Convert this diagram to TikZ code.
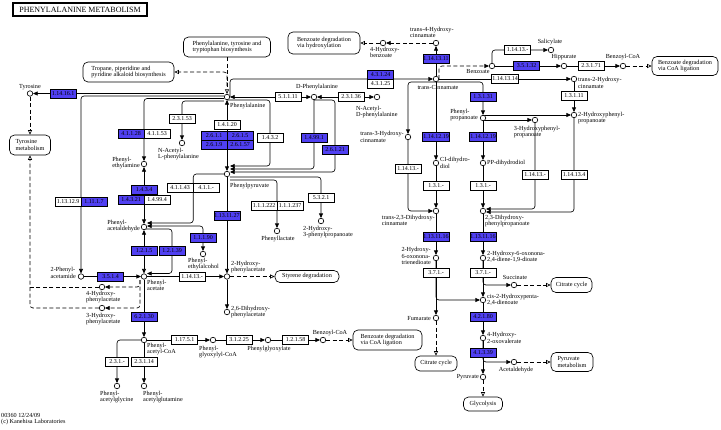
\documentclass[tikz,border=0pt]{standalone}
\usepackage{fontspec}
\setmainfont{Liberation Serif}
\usetikzlibrary{arrows.meta,calc}
\definecolor{keggblue}{RGB}{80,64,242}
\newcommand{\kLbl}{\fontsize{6.2}{6.4}\selectfont}
\newcommand{\kEnz}{\fontsize{6}{6}\selectfont}
\pgfdeclarelayer{bg}
\pgfsetlayers{bg,main}
\begin{document}
\begin{tikzpicture}[x=1pt,y=-1pt,
  >={Triangle[length=4.5pt,width=4pt]},
  ln/.style={line width=0.65pt, rounded corners=3pt},
  dsh/.style={line width=0.65pt, dash pattern=on 4pt off 2.5pt, rounded corners=3pt},
  oar/.style={-{Triangle[open,length=4.5pt,width=4pt]}},
  cpd/.style={circle,draw,fill=white,inner sep=0pt,minimum size=5.5pt,line width=0.65pt},
  enz/.style={draw,fill=white,minimum width=26pt,minimum height=9pt,inner xsep=0.5pt,inner ysep=0pt,font=\kEnz,line width=0.6pt},
  enzb/.style={enz,fill=keggblue},
  mapb/.style={draw,rounded corners=5pt,align=left,inner sep=1pt,font=\kLbl,line width=0.65pt},
  lbl/.style={font=\kLbl,align=left,inner sep=0pt},
  lblc/.style={font=\kLbl,align=center,inner sep=0pt}
]
\useasboundingbox (0,0) rectangle (721,429);

% title
\node[draw,line width=1.1pt,minimum width=134pt,minimum height=13pt,inner sep=0pt,font=\fontsize{8}{8}\selectfont] (title) at (80,9.5) {PHENYLALANINE METABOLISM};

% compounds
\node[cpd] (tyr) at (30,93.5) {};
\node[cpd] (phe) at (227,97) {};
\node[cpd] (dphe) at (314,97) {};
\node[cpd] (nacdphe) at (377,97) {};
\node[cpd] (nacl) at (182,143) {};
\node[cpd] (pea) at (144,164) {};
\node[cpd] (ppy) at (227,174) {};
\node[cpd] (pacal) at (144,227) {};
\node[cpd] (peol) at (203,254) {};
\node[cpd] (plac) at (277,231) {};
\node[cpd] (hpp) at (321,221) {};
\node[cpd] (pam) at (81,276.5) {};
\node[cpd] (pac) at (144,276.5) {};
\node[cpd] (ohpac) at (227,276.5) {};
\node[cpd] (dhpac) at (227,312) {};
\node[cpd] (hpacA) at (102,287) {};
\node[cpd] (hpacB) at (102,308) {};
\node[cpd] (paccoa) at (144,340) {};
\node[cpd] (pglycoa) at (213,340) {};
\node[cpd] (pgly) at (268,340) {};
\node[cpd] (bzcoaA) at (323,340) {};
\node[cpd] (pagly) at (117,386) {};
\node[cpd] (pagln) at (144,386) {};
\node[cpd] (hbz) at (383,43) {};
\node[cpd] (hcinA) at (436,43) {};
\node[cpd] (cin) at (436,79) {};
\node[cpd] (bz) at (492,66) {};
\node[cpd] (sal) at (551,50) {};
\node[cpd] (hip) at (564,66) {};
\node[cpd] (bzcoaB) at (623,66) {};
\node[cpd] (hcinB) at (574,79) {};
\node[cpd] (hcinC) at (408,137) {};
\node[cpd] (ppa) at (483,118) {};
\node[cpd] (hppaC) at (535,120) {};
\node[cpd] (hppaB) at (574,115) {};
\node[cpd] (cidiol) at (436,163) {};
\node[cpd] (ppdiol) at (483,163) {};
\node[cpd] (dhcin) at (436,211) {};
\node[cpd] (dhppa) at (483,211) {};
\node[cpd] (hont) at (436,258) {};
\node[cpd] (hond) at (483,258) {};
\node[cpd] (fum) at (436,318) {};
\node[cpd] (succ) at (514,285) {};
\node[cpd] (chp) at (483,300) {};
\node[cpd] (hov) at (483,338) {};
\node[cpd] (acald) at (514,362) {};
\node[cpd] (pyr) at (483,377) {};

% enzymes
\node[enzb] (e141) at (63,93.5) {1.14.16.1};
\node[enzb] (e4128) at (131,134) {4.1.1.28};
\node[enz] (e4153) at (157,134) {4.1.1.53};
\node[enz] (e23153) at (182,119) {2.3.1.53};
\node[enz] (e14120) at (227,124.5) {1.4.1.20};
\node[enzb] (e2611) at (214,135.5) {2.6.1.1};
\node[enzb] (e2615) at (240,135.5) {2.6.1.5};
\node[enzb] (e2619) at (214,144.5) {2.6.1.9};
\node[enzb] (e26157) at (240,144.5) {2.6.1.57};
\node[enz] (e1432) at (270,138) {1.4.3.2};
\node[enz] (e51111) at (288,97) {5.1.1.11};
\node[enz] (e23136) at (351,97) {2.3.1.36};
\node[enzb] (e14991) at (314,137.5) {1.4.99.1};
\node[enzb] (e26121) at (335,149.5) {2.6.1.21};
\node[enzb] (e43124) at (380.5,74.5) {4.3.1.24};
\node[enz] (e43125) at (380.5,83.5) {4.3.1.25};
\node[enzb] (e14131) at (436,59) {1.14.13.11};
\node[enzb] (e35132) at (526.5,66) {3.5.1.32};
\node[enz] (e1413a) at (517.5,50) {1.14.13.-};
\node[enz] (e23171) at (591,66) {2.3.1.71};
\node[enz] (e141314) at (505,79) {1.14.13.14};
\node[enz] (e13111) at (574,96) {1.3.1.11};
\node[enzb] (e13131) at (483,97) {1.3.1.31};
\node[enzb] (e141219a) at (436,137) {1.14.12.19};
\node[enzb] (e141219b) at (483,137) {1.14.12.19};
\node[enz] (e1413b) at (408,168.5) {1.14.13.-};
\node[enz] (e131a) at (436,186) {1.3.1.-};
\node[enz] (e131b) at (483,186) {1.3.1.-};
\node[enz] (e1413c) at (535,174.5) {1.14.13.-};
\node[enz] (e14134) at (574,174.5) {1.14.13.4};
\node[enzb] (e131116a) at (436,237) {1.13.11.16};
\node[enzb] (e131116b) at (483,237) {1.13.11.16};
\node[enz] (e371a) at (436,272.5) {3.7.1.-};
\node[enz] (e371b) at (483,272.5) {3.7.1.-};
\node[enzb] (e42180) at (483,317) {4.2.1.80};
\node[enzb] (e41339) at (483,353) {4.1.3.39};
\node[enzb] (e131127) at (227,216) {1.13.11.27};
\node[enz] (e41143) at (180,188) {4.1.1.43};
\node[enz] (e411x) at (206,188) {4.1.1.-};
\node[enz] (e111222) at (264,206) {1.1.1.222};
\node[enz] (e111237) at (290,206) {1.1.1.237};
\node[enz] (e5321) at (321,197.5) {5.3.2.1};
\node[enz] (e113129) at (68,202) {1.13.12.9};
\node[enzb] (e11117) at (94,202) {1.11.1.7};
\node[enzb] (e1434) at (144,189.5) {1.4.3.4};
\node[enzb] (e14321) at (131,199.5) {1.4.3.21};
\node[enz] (e14994) at (157,199.5) {1.4.99.4};
\node[enzb] (e1215) at (144,251) {1.2.1.5};
\node[enzb] (e12139) at (172,251) {1.2.1.39};
\node[enzb] (e11190) at (203,237.5) {1.1.1.90};
\node[enzb] (e3514) at (110.5,276.5) {3.5.1.4};
\node[enz] (e1413d) at (192,276.5) {1.14.13.-};
\node[enzb] (e62130) at (144,316.5) {6.2.1.30};
\node[enz] (e11751) at (184.5,340) {1.17.5.1};
\node[enz] (e31225) at (239,340) {3.1.2.25};
\node[enz] (e12158) at (295.5,340) {1.2.1.58};
\node[enz,minimum width=23pt] (e231x) at (117,361.5) {2.3.1.-};
\node[enz] (e23114) at (144,361.5) {2.3.1.14};

% pathway maps
\node[mapb,minimum width=87pt,minimum height=20pt] (pttmap) at (227,47) {Phenylalanine, tyrosine and\\tryptophan biosynthesis};
\node[mapb,minimum width=91pt,minimum height=20pt] (tropmap) at (128.5,72) {Tropane, piperidine and\\pyridine alkaloid biosynthesis};
\node[mapb,minimum width=41pt,minimum height=20pt] (tyrmap) at (30,145) {Tyrosine\\metabolism};
\node[mapb,minimum width=72pt,minimum height=22pt] (hydmap) at (324,43) {Benzoate degradation\\via hydroxylation};
\node[mapb,minimum width=66pt,minimum height=19pt] (coamapA) at (685,66) {Benzoate degradation\\via CoA ligation};
\node[mapb,minimum width=64pt,minimum height=12pt] (stymap) at (307,276.5) {Styrene degradation};
\node[mapb,minimum width=69pt,minimum height=20pt] (coamapB) at (387.5,340) {Benzoate degradation\\via CoA ligation};
\node[mapb,minimum width=42pt,minimum height=15pt] (tcaA) at (436,363.5) {Citrate cycle};
\node[mapb,minimum width=41pt,minimum height=15pt] (tcaB) at (571.5,285) {Citrate cycle};
\node[mapb,minimum width=42pt,minimum height=19pt] (pyrmap) at (572,362) {Pyruvate\\metabolism};
\node[mapb,minimum width=39pt,minimum height=14pt] (glymap) at (483,404) {Glycolysis};

% labels
\node[lblc,anchor=south] (lTyr) at (30,90) {Tyrosine};
\node[lbl,anchor=west] (lPhe) at (230,106) {Phenylalanine};
\node[lblc] (lDphe) at (317,87.5) {D-Phenylalanine};
\node[lbl,anchor=north west] (lNacD) at (356,106) {N-Acetyl-\\D-phenylalanine};
\node[lbl,anchor=north west] (lNacL) at (158,148) {N-Acetyl-\\L-phenylalanine};
\node[lbl,anchor=east] (lPea) at (140,163) {Phenyl-\\ethylamine};
\node[lbl,anchor=west] (lPpy) at (230,186) {Phenylpyruvate};
\node[lbl,anchor=east] (lPacal) at (140,226) {Phenyl-\\acetaldehyde};
\node[lbl,anchor=north west] (lPeol) at (188,258) {Phenyl-\\ethylalcohol};
\node[lblc,anchor=north] (lPlac) at (278,236) {Phenyllactate};
\node[lbl,anchor=north west] (lHpp) at (303,226) {2-Hydroxy-\\3-phenylpropanoate};
\node[lbl,anchor=east] (lPam) at (76,273) {2-Phenyl-\\acetamide};
\node[lbl,anchor=north west] (lPac) at (147,280) {Phenyl-\\acetate};
\node[lbl,anchor=north west] (lOhpac) at (231,261) {2-Hydroxy-\\phenylacetate};
\node[lbl,anchor=north west] (lHpacA) at (86,291) {4-Hydroxy-\\phenylacetate};
\node[lbl,anchor=north west] (lHpacB) at (86,313) {3-Hydroxy-\\phenylacetate};
\node[lbl,anchor=north west] (lDhpac) at (231,306) {2,6-Dihydroxy-\\phenylacetate};
\node[lbl,anchor=north west] (lPaccoa) at (147,343) {Phenyl-\\acetyl-CoA};
\node[lbl,anchor=north west] (lPglycoa) at (199,346) {Phenyl-\\glyoxylyl-CoA};
\node[lblc,anchor=north] (lPgly) at (269,346) {Phenylglyoxylate};
\node[lblc,anchor=south] (lBzcoaA) at (330,336) {Benzoyl-CoA};
\node[lbl,anchor=north west] (lPagly) at (100,391) {Phenyl-\\acetylglycine};
\node[lbl,anchor=north west] (lPagln) at (143,391) {Phenyl-\\acetylglutamine};
\node[lbl,anchor=north west] (lHbz) at (370,47) {4-Hydroxy-\\benzoate};
\node[lbl,anchor=north west] (lHcinA) at (410,27) {trans-4-Hydroxy-\\cinnamate};
\node[lblc,anchor=north] (lCin) at (438,85.5) {trans-Cinnamate};
\node[lblc] (lBz) at (478,71.5) {Benzoate};
\node[lblc] (lSal) at (550,42.5) {Salicylate};
\node[lblc] (lHip) at (564,57.5) {Hippurate};
\node[lblc] (lBzcoaB) at (623,57.5) {Benzoyl-CoA};
\node[lbl,anchor=west] (lHcinB) at (578,83) {trans-2-Hydroxy-\\cinnamate};
\node[lbl,anchor=west] (lHppaB) at (578,118) {2-Hydroxyphenyl-\\propanoate};
\node[lbl,anchor=east] (lPpa) at (478,115) {Phenyl-\\propanoate};
\node[lbl,anchor=north] (lHppaC) at (537,126) {3-Hydroxyphenyl-\\propanoate};
\node[lbl,anchor=east] (lHcinC) at (404,137) {trans-3-Hydroxy-\\cinnamate};
\node[lbl,anchor=west] (lCidiol) at (440,163) {CI-dihydro-\\diol};
\node[lbl,anchor=west] (lPpdiol) at (487,163) {PP-dihydrodiol};
\node[lbl,anchor=north east] (lDhcin) at (435,215) {trans-2,3-Dihydroxy-\\cinnamate};
\node[lbl,anchor=north west] (lDhppa) at (485,215) {2,3-Dihydroxy-\\phenylpropanoate};
\node[lbl,anchor=east] (lHont) at (431,256) {2-Hydroxy-\\6-oxonona-\\trienedioate};
\node[lbl,anchor=west] (lHond) at (487,257) {2-Hydroxy-6-oxonona-\\2,4-diene-1,9-dioate};
\node[lbl,anchor=east] (lFum) at (431,318) {Fumarate};
\node[lblc] (lSucc) at (515,277.5) {Succinate};
\node[lbl,anchor=west] (lChp) at (487,300) {cis-2-Hydroxypenta-\\2,4-dienoate};
\node[lbl,anchor=west] (lHov) at (487,338) {4-Hydroxy-\\2-oxovalerate};
\node[lblc] (lAcald) at (516,370) {Acetaldehyde};
\node[lbl,anchor=east] (lPyr) at (479,377) {Pyruvate};
\node[lbl,anchor=north west] (lCopy) at (1,413) {00360 12/24/09\\(c) Kanehisa Laboratories};

\coordinate (dj) at (140,280);
\coordinate (tj) at (227,86);

\begin{pgfonlayer}{bg}
% phenylalanine
\draw[ln,->] ([yshift=3.5pt]phe.west) -- (tyr);
\draw[ln,->] ([yshift=1pt]phe.west) -| (pam);
\draw[ln,->] ([yshift=-1.5pt]phe.west) -| (pea);
\draw[ln,->] ([yshift=-4pt]phe.west) -| (nacl);
\draw[ln,->] ([xshift=3pt]phe.center) |- (cin);
\draw[ln,<->] (phe) -- (ppy);
\draw[ln,<->] (phe) -- (dphe);
\draw[ln,->] ([yshift=-3pt]phe.center) -| (e1432.center) |- ([yshift=8pt]ppy.east);
\draw[ln,->] (dphe) |- ([yshift=5pt]ppy.east);
\draw[ln,->] ([yshift=-3pt]dphe.center) -| (e26121.center) |- ([yshift=2pt]ppy.east);
\draw[ln,<->] (dphe) -- (nacdphe);
% phenylpyruvate
\draw[ln,->] ([xshift=3pt,yshift=-3pt]ppy.center) -| (hpp);
\draw[ln,->] ([xshift=3pt,yshift=-6pt]ppy.center) -| (plac);
\draw[ln,->] (ppy) -- (ohpac);
\draw[ln,->] (ppy.west) -| (e41143.east) |- ([yshift=4pt]pacal.east);
% phenylethylamine / phenylacetaldehyde
\draw[ln,<->] (pea) -- (pacal);
\draw[ln,<->] (pacal) -- (pac);
\draw[ln,<->] ([yshift=1pt]pacal.east) -| (peol);
\draw[ln,->] ([yshift=-2pt]pacal.center) -| (e12139.center) |- ([yshift=3pt]pac.east);
% phenylacetate
\draw[ln,->] (pam) -- (pac);
\draw[ln,->] (pac) -- (ohpac);
\draw[ln,->] (ohpac) -- (dhpac);
\draw[dsh,oar] (ohpac) -- (stymap);
\draw[ln,->] (pac) -- (paccoa);
\draw[ln,->] (paccoa) -- (pglycoa);
\draw[ln,->] (pglycoa) -- (pgly);
\draw[ln,->] (pgly) -- (bzcoaA);
\draw[dsh,oar] (bzcoaA) -- (coamapB);
\draw[ln,->] (paccoa.west) -| (pagly);
\draw[ln,->] (paccoa) -- (pagln);
% dashed links
\draw[dsh,oar] (tyr) -- (tyrmap);
\draw[dsh,->] (dj) |- (hpacA);
\draw[dsh,->] (dj) |- (hpacB);
\draw[dsh,oar] (hpacB.west) -| (tyrmap.south);
\draw[dsh] (hpacA.west) -- (hpacA.west -| tyrmap.south);
\draw[dsh,oar] (pttmap) -- (phe);
\draw[dsh,oar] (tj) |- (tropmap);
% cinnamate branch
\draw[dsh,->] (hcinA) -- (hbz);
\draw[dsh,oar] (hbz) -- (hydmap);
\draw[ln,->] (cin) -- (hcinA);
\draw[dsh,->] ([xshift=3pt]cin.center) |- (bz);
\draw[ln,->] (bz) |- (sal);
\draw[ln,->] (bz) -- (hip);
\draw[ln,->] (hip) -- (bzcoaB);
\draw[dsh,oar] (bzcoaB) -- (coamapA);
\draw[ln,->] (cin) -- (hcinB);
\draw[ln,->] (hcinB) -- (hppaB);
\draw[ln,->] ([yshift=-3pt]cin.center) -| (ppa);
\draw[ln,->] ([yshift=-3pt]cin.center) -| (hcinC);
\draw[ln,->] (cin) -- (cidiol);
\draw[ln,->] (ppa) -- (ppdiol);
\draw[ln,->] ([yshift=3pt]ppa.center) -- (hppaB);
\draw[ln,->] ([yshift=-2pt]ppa.center) -- (hppaC);
\draw[ln,->] (hppaC) |- ([yshift=2pt]dhppa.east);
\draw[ln,->] (hppaB) |- ([yshift=-1pt]dhppa.east);
\draw[ln,->] (ppdiol) -- (dhppa);
\draw[ln,->] (cidiol) -- (dhcin);
\draw[ln,->] (hcinC) |- (dhcin);
\draw[ln,->] (dhcin) -- (hont);
\draw[ln,->] (dhppa) -- (hond);
\draw[ln,->] (hont) -- (fum);
\draw[ln,->] (hont) |- (chp);
\draw[ln,->] (hond) |- (succ);
\draw[ln,->] (hond) -- (chp);
\draw[dsh,oar] (succ) -- (tcaB);
\draw[dsh,oar] (fum) -- (tcaA);
\draw[ln,->] (chp) -- (hov);
\draw[ln,->] (hov) |- (acald);
\draw[ln,->] (hov) -- (pyr);
\draw[dsh,oar] (acald) -- (pyrmap);
\draw[dsh,oar] (pyr) -- (glymap);
\end{pgfonlayer}
\end{tikzpicture}
\end{document}
